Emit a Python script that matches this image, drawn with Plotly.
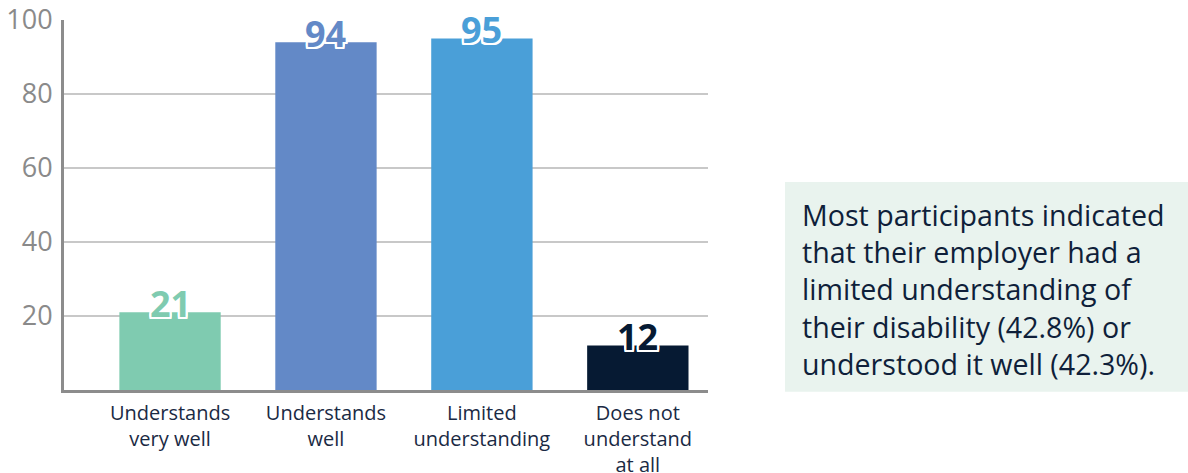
import plotly.graph_objects as go

categories = ["Understands<br>very well", "Understands<br>well", "Limited<br>understanding", "Does not<br>understand<br>at all"]
values = [21, 94, 95, 12]
colors = ["#7fcbb0", "#6389c7", "#4a9fd8", "#061a33"]
y_ticks = [20, 40, 60, 80, 100]
note = ("Most participants indicated<br>that their employer had a<br>limited understanding of<br>"
        "their disability (42.8%) or<br>understood it well (42.3%).")

xpos = list(range(len(categories)))

fig = go.Figure()
fig.add_trace(go.Bar(x=xpos, y=values, marker=dict(color=colors, line=dict(width=0)),
                     width=0.65, hoverinfo="skip", showlegend=False))

shadow = ", ".join(f"{dx}px {dy}px 0 #ffffff" for dx in (-2, -1, 0, 1, 2) for dy in (-2, -1, 0, 1, 2))
for x, v, c in zip(xpos, values, colors):
    fig.add_annotation(x=x, y=v, text=f"<b>{v}</b>", showarrow=False, yanchor="middle", yshift=9,
                       font=dict(family="Open Sans", size=36, color=c, shadow=shadow))

fig.add_shape(type="rect", xref="paper", yref="paper", x0=1.1196, x1=1.76, y0=-0.005, y1=0.562,
              fillcolor="#e9f3ee", line=dict(width=0), layer="below")
fig.add_annotation(xref="paper", yref="paper", x=1.143, y=0.272, xanchor="left", yanchor="middle",
                   text=note, showarrow=False, align="left",
                   font=dict(family="Open Sans", size=28.6, color="#0f1f3a"))

fig.update_layout(
    width=1188, height=473,
    margin=dict(l=64, r=480, t=20, b=83, autoexpand=False),
    plot_bgcolor="white", paper_bgcolor="white",
    bargap=0.35,
    xaxis=dict(range=[-0.68, 3.45], tickvals=xpos, ticktext=categories, showgrid=False,
               showline=True, linecolor="#8c8c8c", linewidth=3, ticks="", zeroline=False,
               tickfont=dict(family="Open Sans", size=20, color="#1a2a44"), ticklabelstandoff=3),
    yaxis=dict(range=[0, 100], tickvals=y_ticks, showgrid=True, gridcolor="#c8c8c8", gridwidth=2,
               showline=True, linecolor="#8c8c8c", linewidth=3, ticks="", zeroline=False,
               tickfont=dict(family="Open Sans", size=27, color="#8a8a8a"), ticklabelstandoff=3),
)

fig.write_html("out.html", config={"displayModeBar": False},
               post_script="document.body.style.margin='0';")
